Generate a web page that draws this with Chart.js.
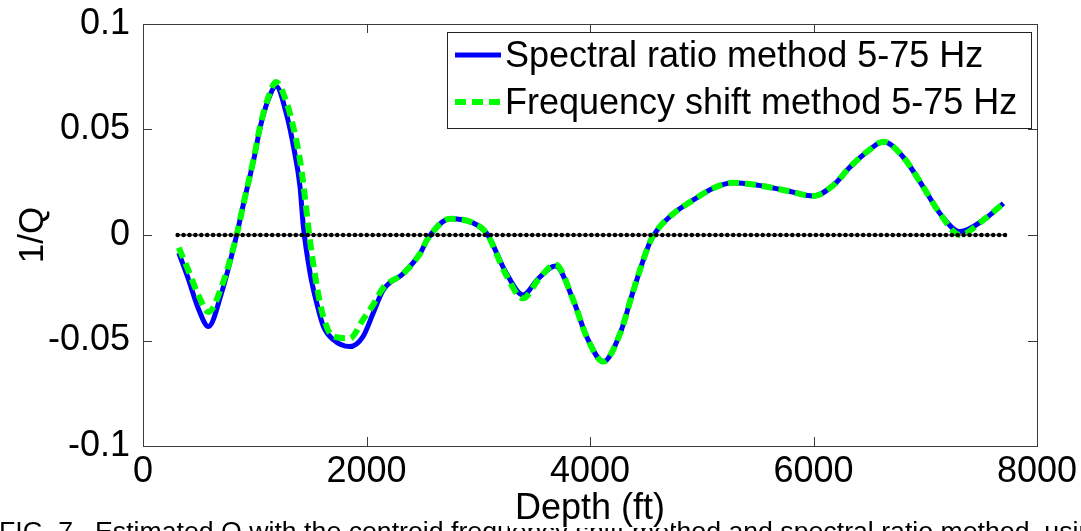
<!DOCTYPE html>
<html>
<head>
<meta charset="utf-8">
<script src="https://cdn.jsdelivr.net/npm/chart.js@4/dist/chart.umd.min.js"></script>
<style>
  html, body { margin: 0; padding: 0; background: #fff; overflow: hidden; }
  canvas { display: block; }
</style>
</head>
<body>
<canvas id="qchart" width="1081" height="531"></canvas>
<script>
// Depth samples (ft) and attenuation estimates 1/Q for each method
const depthFt = [320, 400, 500, 585, 700, 838, 900, 990, 1050, 1120, 1190, 1290, 1350, 1405, 1435,
  1495, 1555, 1615, 1700, 1850, 1970, 2060, 2150, 2330, 2480, 2550, 2750, 2950, 3075, 3250, 3400,
  3540, 3690, 3850, 3970, 4120, 4270, 4390, 4540, 4610, 4750, 4925, 5100, 5280, 5490, 5760, 6000,
  6180, 6330, 6480, 6625, 6800, 6980, 7130, 7310, 7520, 7700];

const spectralRatio = [-0.0085, -0.020, -0.0355, -0.0434, -0.028, 0.0, 0.015, 0.0355, 0.0513, 0.064,
  0.0705, 0.056, 0.041, 0.0229, 0.004, -0.018, -0.0324, -0.0434, -0.0495, -0.0529, -0.048, -0.037,
  -0.026, -0.0182, -0.0087, -0.0016, 0.0077, 0.0058, 0.0008, -0.018, -0.0284, -0.0205, -0.0147,
  -0.0308, -0.0482, -0.060, -0.0466, -0.026, -0.003, 0.003, 0.0103, 0.0166, 0.0221, 0.0248, 0.0237,
  0.021, 0.0185, 0.0237, 0.0324, 0.0395, 0.0442, 0.0371, 0.0229, 0.0103, 0.0016, 0.0071, 0.015];

const frequencyShift = [-0.006, -0.016, -0.029, -0.0365, -0.025, 0.0, 0.015, 0.036, 0.052, 0.065,
  0.0725, 0.062, 0.050, 0.0355, 0.024, -0.003, -0.024, -0.039, -0.048, -0.049, -0.040, -0.033,
  -0.025, -0.0182, -0.0087, -0.0016, 0.0077, 0.0058, 0.0008, -0.019, -0.030, -0.021, -0.014,
  -0.0308, -0.0482, -0.060, -0.0466, -0.026, -0.003, 0.003, 0.0103, 0.0166, 0.0221, 0.0248, 0.0237,
  0.021, 0.0185, 0.0237, 0.0324, 0.0395, 0.0442, 0.0371, 0.0229, 0.0103, 0.0, 0.0071, 0.015];

// Zero reference line, drawn over the depth span of the estimates
const zeroLineDepths = [310, 7730];
const zeroLineValues = [0, 0];

const xTickValues = [0, 2000, 4000, 6000, 8000];
const yTickValues = [-0.1, -0.05, 0, 0.05, 0.1];
const yTickLabels = ['-0.1', '-0.05', '0', '0.05', '0.1'];

const seriesNames = ['Spectral ratio method 5-75 Hz', 'Frequency shift method 5-75 Hz'];
const xTitle = 'Depth (ft)';
const yTitle = '1/Q';
const captionLead = 'FIG. 7.';
const captionBody = 'Estimated Q with the centroid frequency shift method and spectral ratio method, using';

const FONT = '"Liberation Sans", Arial, Helvetica, sans-serif';
const AXIS_COLOR = '#3c3c3c';

const toPoints = (xs, ys) => xs.map((x, i) => ({ x: x, y: ys[i] }));

// Box around the plot with inward ticks on all four sides, axis titles, legend and caption
const decorations = {
  id: 'decorations',
  afterDraw(chart) {
    const ctx = chart.ctx;
    const a = chart.chartArea;
    const xs = chart.scales.x, ys = chart.scales.y;
    const tickLen = 9;
    ctx.save();
    ctx.strokeStyle = AXIS_COLOR;
    ctx.lineWidth = 1;
    ctx.strokeRect(Math.round(a.left) + 0.5, Math.round(a.top) + 0.5,
      Math.round(a.right - a.left), Math.round(a.bottom - a.top));
    ctx.beginPath();
    xTickValues.forEach(v => {
      const px = Math.round(xs.getPixelForValue(v)) + 0.5;
      ctx.moveTo(px, a.bottom); ctx.lineTo(px, a.bottom - tickLen);
      ctx.moveTo(px, a.top); ctx.lineTo(px, a.top + tickLen);
    });
    yTickValues.forEach(v => {
      const py = Math.round(ys.getPixelForValue(v)) + 0.5;
      ctx.moveTo(a.left, py); ctx.lineTo(a.left + tickLen, py);
      ctx.moveTo(a.right, py); ctx.lineTo(a.right - tickLen, py);
    });
    ctx.stroke();

    // Legend box
    const lg = { x: 447, y: 32, w: 584, h: 96 };
    ctx.fillStyle = '#fff';
    ctx.fillRect(lg.x, lg.y, lg.w, lg.h);
    ctx.strokeStyle = '#222';
    ctx.strokeRect(lg.x + 0.5, lg.y + 0.5, lg.w, lg.h);
    ctx.font = '36px ' + FONT;
    ctx.textBaseline = 'middle';
    ctx.textAlign = 'left';
    const rows = [55, 102];
    [0, 1].forEach(i => {
      const ds = chart.data.datasets[i];
      ctx.save();
      ctx.strokeStyle = ds.borderColor;
      ctx.lineWidth = ds.borderWidth;
      ctx.setLineDash(ds.borderDash || []);
      ctx.beginPath();
      ctx.moveTo(455, rows[i]); ctx.lineTo(501, rows[i]);
      ctx.stroke();
      ctx.restore();
      ctx.fillStyle = '#000';
      ctx.fillText(seriesNames[i], 505, rows[i] + 2);
    });

    // Y axis title
    ctx.save();
    ctx.translate(43, (a.top + a.bottom) / 2);
    ctx.rotate(-Math.PI / 2);
    ctx.textAlign = 'center';
    ctx.textBaseline = 'alphabetic';
    ctx.fillStyle = '#000';
    ctx.font = '35px ' + FONT;
    ctx.fillText(yTitle, 0, 0);
    ctx.restore();

    // Figure caption along the bottom edge
    ctx.fillStyle = '#000';
    ctx.textAlign = 'left';
    ctx.textBaseline = 'alphabetic';
    ctx.font = '26.7px ' + FONT;
    ctx.fillText(captionLead, -1, 540);
    ctx.fillText(captionBody, 95, 540);

    // X axis title on a white backing
    ctx.font = '36px ' + FONT;
    const cx = (a.left + a.right) / 2;
    const tw = ctx.measureText(xTitle).width;
    ctx.fillStyle = '#fff';
    ctx.fillRect(cx - tw / 2 - 6, 488, tw + 12, 40);
    ctx.fillStyle = '#000';
    ctx.textAlign = 'center';
    ctx.fillText(xTitle, cx, 519);
    ctx.restore();
  }
};

new Chart(document.getElementById('qchart'), {
  type: 'line',
  data: {
    datasets: [
      {
        label: seriesNames[0],
        data: toPoints(depthFt, spectralRatio),
        borderColor: '#0000ff',
        borderWidth: 5,
        pointRadius: 0,
        cubicInterpolationMode: 'monotone',
        order: 2
      },
      {
        label: seriesNames[1],
        data: toPoints(depthFt, frequencyShift),
        borderColor: '#00ff00',
        borderWidth: 6,
        borderDash: [11, 6],
        pointRadius: 0,
        cubicInterpolationMode: 'monotone',
        order: 1
      },
      {
        label: 'zero',
        data: toPoints(zeroLineDepths, zeroLineValues),
        borderColor: '#000',
        borderWidth: 1.2,
        pointRadius: 0,
        order: 0
      },
      {
        label: 'zero markers',
        data: toPoints(zeroLineDepths, zeroLineValues),
        borderColor: '#000',
        borderWidth: 4.5,
        borderDash: [0.01, 5.9],
        borderCapStyle: 'round',
        pointRadius: 0,
        order: 0
      }
    ]
  },
  options: {
    responsive: false,
    animation: false,
    events: [],
    layout: { padding: { top: 24, right: 44, left: 0, bottom: 0 } },
    plugins: { legend: { display: false }, tooltip: { enabled: false } },
    scales: {
      x: {
        type: 'linear',
        min: 0, max: 8000,
        afterBuildTicks: s => { s.ticks = xTickValues.map(v => ({ value: v })); },
        afterFit: s => { s.height = 85; s.paddingLeft = 0; s.paddingRight = 0; },
        grid: { display: false, drawTicks: false },
        border: { display: false },
        ticks: {
          autoSkip: false, maxRotation: 0, padding: 4,
          color: '#000',
          font: { family: FONT, size: 36 },
          callback: v => String(v)
        }
      },
      y: {
        type: 'linear',
        min: -0.1, max: 0.1,
        afterBuildTicks: s => { s.ticks = yTickValues.map(v => ({ value: v })); },
        afterFit: s => { s.width = 143; s.paddingTop = 0; s.paddingBottom = 0; },
        grid: { display: false, drawTicks: false },
        border: { display: false },
        ticks: {
          autoSkip: false, padding: 13,
          color: '#000',
          font: { family: FONT, size: 36 },
          callback: v => yTickLabels[yTickValues.findIndex(t => Math.abs(t - v) < 1e-9)]
        }
      }
    }
  },
  plugins: [decorations]
});
</script>
</body>
</html>
